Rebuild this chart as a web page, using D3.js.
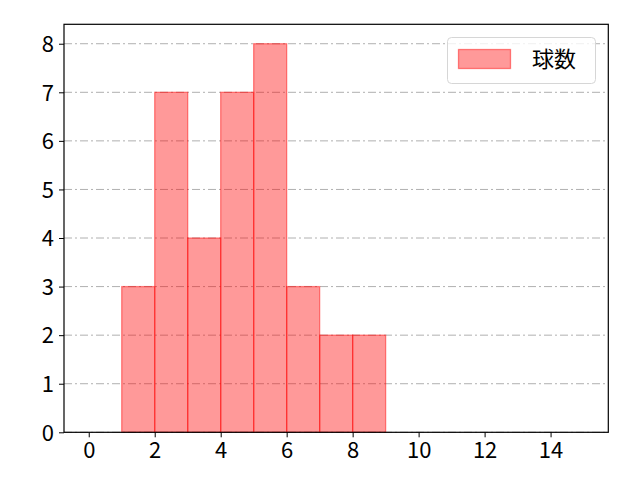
<!DOCTYPE html>
<html>
<head>
<meta charset="utf-8">
<script src="https://cdn.jsdelivr.net/npm/d3@7"></script>
<style>
  body { margin: 0; background: #fff; }
  text { font-family: "Noto Sans CJK JP", "Noto Sans", sans-serif; }
</style>
</head>
<body>
<svg id="chart" width="640" height="480"></svg>
<script>
"use strict";

// Histogram bins (left edge, right edge) and counts
var binStarts = [1, 2, 3, 4, 5, 6, 7, 8];
var binEnds   = [2, 3, 4, 5, 6, 7, 8, 9];
var counts    = [3, 7, 4, 7, 8, 3, 2, 2];
var xTicks = [0, 2, 4, 6, 8, 10, 12, 14];
var yTicks = [0, 1, 2, 3, 4, 5, 6, 7, 8];
var seriesName = "球数";

var margin = {top: 24.3, right: 31.7, bottom: 47.7, left: 64};
var width = 640, height = 480;

var svg = d3.select("#chart");

var x = d3.scaleLinear()
  .domain([-0.75, 15.75])
  .range([margin.left, width - margin.right]);

var y = d3.scaleLinear()
  .domain([0, 8.4])
  .range([height - margin.bottom, margin.top]);

// Grid lines (y only, dash-dot)
svg.append("g")
  .selectAll("line")
  .data(yTicks)
  .enter()
  .append("line")
    .attr("x1", margin.left)
    .attr("x2", width - margin.right)
    .attr("y1", d => y(d))
    .attr("y2", d => y(d))
    .attr("stroke", "#b0b0b0")
    .attr("stroke-width", 1)
    .attr("stroke-dasharray", "8,3,2,3");

// Bars
var bars = binStarts.map((s, i) => ({x0: s, x1: binEnds[i], n: counts[i]}));
svg.append("g")
  .selectAll("rect")
  .data(bars)
  .enter()
  .append("rect")
    .attr("x", d => x(d.x0))
    .attr("y", d => y(d.n))
    .attr("width", d => x(d.x1) - x(d.x0))
    .attr("height", d => y(0) - y(d.n))
    .attr("fill", "#ff0000")
    .attr("fill-opacity", 0.4)
    .attr("stroke", "#ff0000")
    .attr("stroke-opacity", 0.45)
    .attr("stroke-width", 1.3);

// Axes
var xAxis = svg.append("g")
  .attr("transform", `translate(0, ${height - margin.bottom})`)
  .call(d3.axisBottom(x).tickValues(xTicks).tickSize(5).tickPadding(5).tickFormat(d3.format("d")));

var yAxis = svg.append("g")
  .attr("transform", `translate(${margin.left}, 0)`)
  .call(d3.axisLeft(y).tickValues(yTicks).tickSize(5).tickPadding(5).tickFormat(d3.format("d")));

[xAxis, yAxis].forEach(function(a) {
  a.select(".domain").remove();
  a.selectAll(".tick line").attr("stroke", "#000").attr("stroke-width", 1);
  a.selectAll(".tick text")
    .attr("fill", "#000")
    .style("font-size", "22px")
    .style("font-family", '"Noto Sans CJK JP", "Noto Sans", sans-serif');
});
yAxis.selectAll(".tick text").attr("dy", "0.35em");

// Frame
svg.append("rect")
  .attr("x", margin.left)
  .attr("y", margin.top)
  .attr("width", width - margin.left - margin.right)
  .attr("height", height - margin.top - margin.bottom)
  .attr("fill", "none")
  .attr("stroke", "#000")
  .attr("stroke-width", 1.2);

// Legend
var legend = svg.append("g").attr("class", "legend");
legend.append("rect")
  .attr("x", 447.5)
  .attr("y", 37.5)
  .attr("width", 148)
  .attr("height", 46)
  .attr("rx", 4)
  .attr("fill", "#fff")
  .attr("fill-opacity", 0.8)
  .attr("stroke", "#d6d6d6")
  .attr("stroke-width", 1);
legend.append("rect")
  .attr("x", 458.5)
  .attr("y", 49.5)
  .attr("width", 52)
  .attr("height", 19)
  .attr("fill", "#ff0000")
  .attr("fill-opacity", 0.4)
  .attr("stroke", "#ff0000")
  .attr("stroke-opacity", 0.45)
  .attr("stroke-width", 1.3);
legend.append("text")
  .attr("x", 532)
  .attr("y", 59)
  .attr("dy", "0.35em")
  .style("font-size", "22px")
  .attr("fill", "#000")
  .text(seriesName);
</script>
</body>
</html>
